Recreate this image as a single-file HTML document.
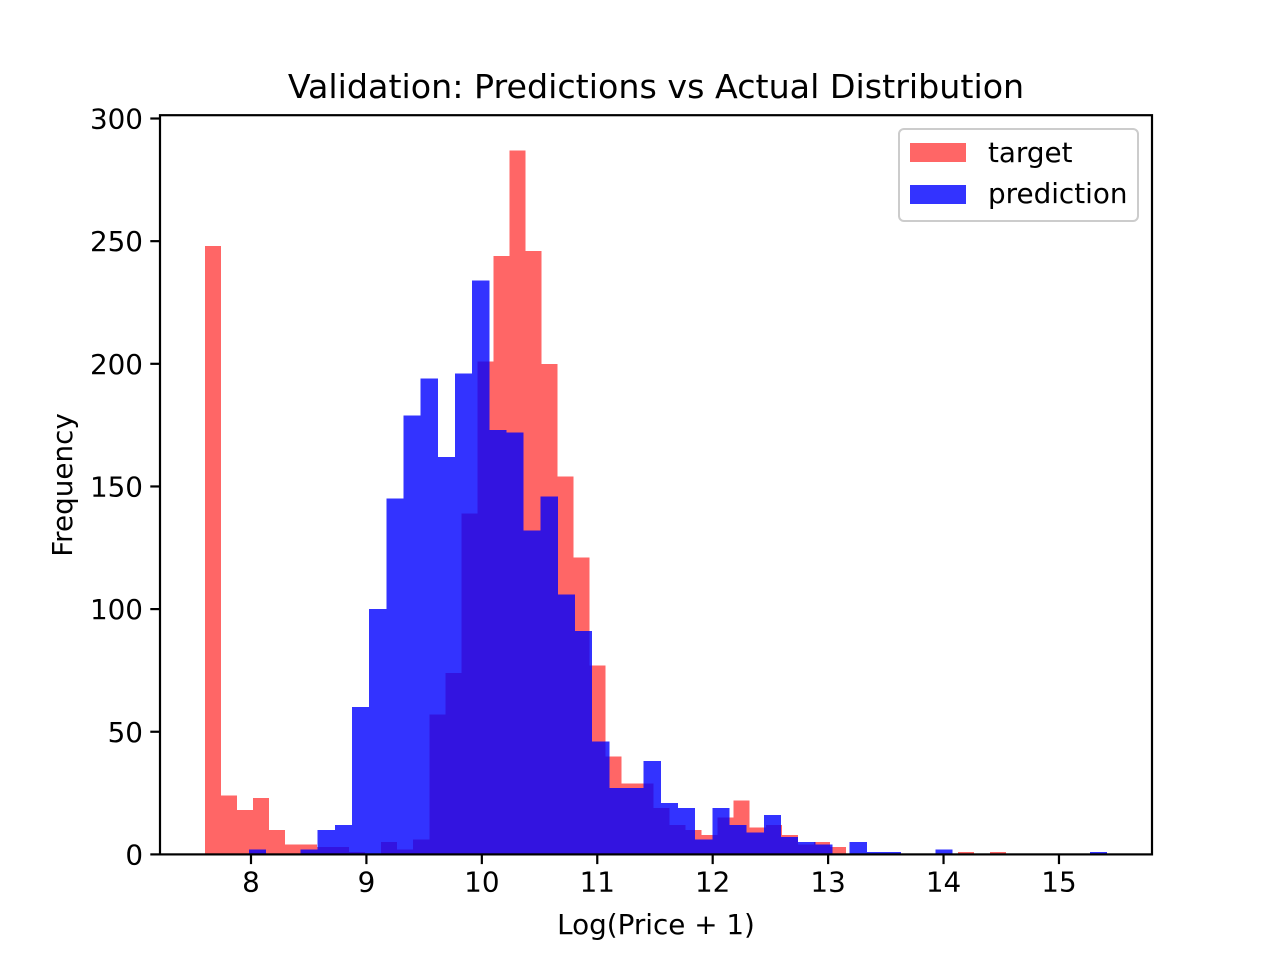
<!DOCTYPE html>
<html><head><meta charset="utf-8"><style>
body{margin:0;background:#fff}
svg{display:block}
text{font-family:"DejaVu Sans","Liberation Sans",sans-serif;fill:#000}
</style></head><body>
<svg id="chart" width="1280" height="960" viewBox="0 0 1280 960" xmlns="http://www.w3.org/2000/svg">
<rect width="1280" height="960" fill="#fff"/>
<text x="656" y="98" font-size="33.3" text-anchor="middle">Validation: Predictions vs Actual Distribution</text>
<g id="bars" shape-rendering="crispEdges"></g>
<rect x="160" y="115.2" width="992" height="739.2" fill="none" stroke="#000" stroke-width="2.2"/>
<g id="ticks"></g>
<text x="656" y="934" font-size="27.8" text-anchor="middle">Log(Price + 1)</text>
<text transform="translate(72,485) rotate(-90)" font-size="27.8" text-anchor="middle">Frequency</text>
<g>
<rect x="899" y="129" width="239" height="92" rx="5" fill="#fff" fill-opacity="0.8" stroke="#ccc" stroke-width="2"/>
<rect x="910" y="143" width="56" height="19" fill="#ff0000" fill-opacity="0.6"/>
<text x="988" y="162" font-size="27.8">target</text>
<rect x="910" y="185" width="56" height="19" fill="#0000ff" fill-opacity="0.8"/>
<text x="988" y="203" font-size="27.8">prediction</text>
</g>
</svg>
<script>
const targetCounts=[248,24,18,23,10,4,4,3,3,1,0,5,2,6,57,74,139,201,244,287,246,200,154,121,77,40,29,29,19,12,10,8,15,22,11,12,8,4,5,3,0,0,0,0,0,0,0,1,0,1];
const predictionCounts=[2,0,0,2,10,12,60,100,145,179,194,162,196,234,173,172,132,146,106,91,46,27,27,38,21,19,6,19,12,9,16,7,5,4,0,5,1,1,0,0,2,0,0,0,0,0,0,0,0,1];
const targetRange=[7.601,14.542];
const predictionRange=[7.983,15.416];
const xTicks=[8,9,10,11,12,13,14,15];
const yTicks=[0,50,100,150,200,250,300];

const X0=160,X1=1152,Y0=854.4,Y1=115.2;
const xMin=7.2117,xMax=15.806,yMin=0,yMax=301.35;
function xs(v){return X0+(v-xMin)/(xMax-xMin)*(X1-X0);}
function ys(v){return Y0-(v-yMin)/(yMax-yMin)*(Y0-Y1);}
const NS="http://www.w3.org/2000/svg";
const bars=document.getElementById('bars');
function drawHist(counts,range,color,op,name){
  const w=(range[1]-range[0])/counts.length;
  counts.forEach((c,i)=>{
    if(c<=0)return;
    const r=document.createElementNS(NS,'rect');
    const a=xs(range[0]+i*w),b=xs(range[0]+(i+1)*w);
    r.setAttribute('x',a);r.setAttribute('width',b-a);
    r.setAttribute('y',ys(c));r.setAttribute('height',ys(0)-ys(c));
    r.setAttribute('fill',color);r.setAttribute('fill-opacity',op);
    
    
    bars.appendChild(r);
  });
}
drawHist(targetCounts,targetRange,'#ff0000',0.6,'target');
drawHist(predictionCounts,predictionRange,'#0000ff',0.8,'prediction');
const tg=document.getElementById('ticks');
xTicks.forEach(t=>{
  const x=xs(t);
  const l=document.createElementNS(NS,'line');
  l.setAttribute('x1',x);l.setAttribute('x2',x);l.setAttribute('y1',Y0);l.setAttribute('y2',Y0+9.7);
  l.setAttribute('stroke','#000');l.setAttribute('stroke-width',2.2);
  
  
  tg.appendChild(l);
  const tx=document.createElementNS(NS,'text');
  tx.setAttribute('x',x);tx.setAttribute('y',Y0+37);tx.setAttribute('font-size','27.8');tx.setAttribute('text-anchor','middle');
  tx.textContent=t;
  
  
  tg.appendChild(tx);
});
yTicks.forEach(t=>{
  const y=ys(t);
  const l=document.createElementNS(NS,'line');
  l.setAttribute('x1',X0-9.7);l.setAttribute('x2',X0);l.setAttribute('y1',y);l.setAttribute('y2',y);
  l.setAttribute('stroke','#000');l.setAttribute('stroke-width',2.2);
  
  
  tg.appendChild(l);
  const tx=document.createElementNS(NS,'text');
  tx.setAttribute('x',X0-17);tx.setAttribute('y',y+10);tx.setAttribute('font-size','27.8');tx.setAttribute('text-anchor','end');
  tx.textContent=t;
  
  
  tg.appendChild(tx);
});
</script>
</body></html>
